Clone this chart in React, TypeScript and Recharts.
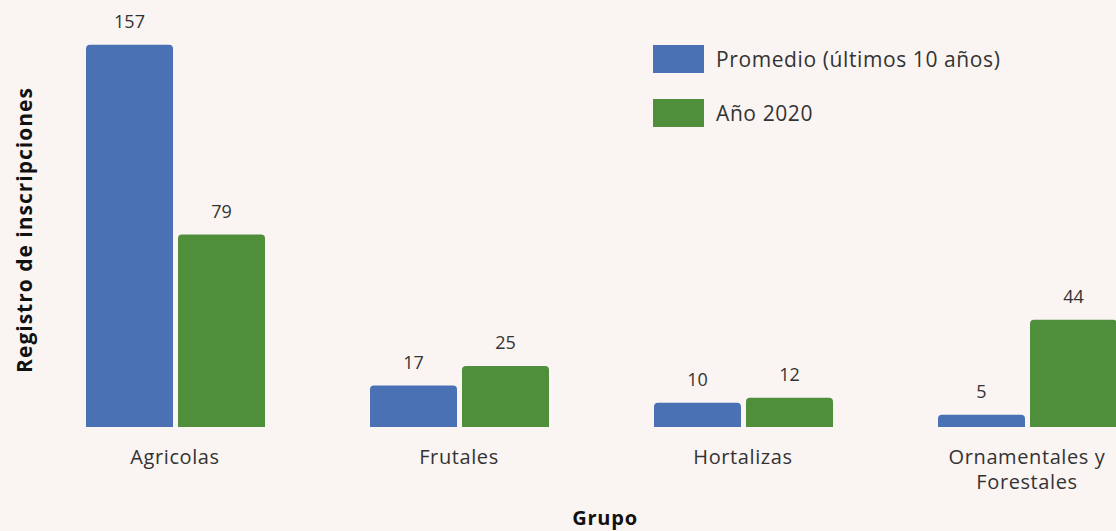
import React from "react";
import { BarChart, Bar, XAxis, YAxis, LabelList, Label } from "recharts";

const categories = ["Agricolas", "Frutales", "Hortalizas", "Ornamentales y\nForestales"];
const promedio = [157, 17, 10, 5];
const anio2020 = [79, 25, 12, 44];
const seriesNames = ["Promedio (últimos 10 años)", "Año 2020"];
const colors = ["#4a71b3", "#4f8f3b"];

const data = categories.map((c, i) => ({ name: c, promedio: promedio[i], anio: anio2020[i] }));

const FONT = "'Open Sans', sans-serif";

const Tick = (props: any) => {
  const { x, y, payload } = props;
  const lines = String(payload.value).split("\n");
  return (
    <g>
      {lines.map((l: string, i: number) => (
        <text key={i} x={x} y={y + 29 + i * 25} textAnchor="middle" fontFamily={FONT} fontSize={20} fill="#333" letterSpacing={0.6}>
          {l}
        </text>
      ))}
    </g>
  );
};

const LegendBox = () => (
  <div style={{ position: "absolute", left: 653, top: 45, fontFamily: FONT }}>
    {seriesNames.map((n, i) => (
      <div key={n} style={{ display: "flex", alignItems: "center", height: 28, marginBottom: 26 }}>
        <div style={{ width: 51, height: 28, background: colors[i] }} />
        <span style={{ marginLeft: 12, fontSize: 21, color: "#333", letterSpacing: 0.6 }}>{n}</span>
      </div>
    ))}
  </div>
);

export default function App() {
  return (
    <div style={{ position: "fixed", left: 0, top: 0, width: 1116, height: 531, overflow: "hidden", background: "#faf5f2" }}>
      <BarChart
        width={1180}
        height={531}
        data={data}
        margin={{ top: 13, right: 11, left: 0, bottom: 0 }}
        barSize={87}
        barGap={5}
      >
        <XAxis dataKey="name" axisLine={false} tickLine={false} height={104} tick={<Tick />} interval={0}>
          <Label
            content={() => (
              <text x={605} y={525} textAnchor="middle" fontFamily={FONT} fontSize={20} fontWeight={700} fill="#111" letterSpacing={0.8}>
                Grupo
              </text>
            )}
          />
        </XAxis>
        <YAxis width={33} domain={[0, 170]} axisLine={false} tickLine={false} tick={false}>
          <Label
            content={() => (
              <text x={32} y={230} transform="rotate(-90 32 230)" textAnchor="middle" fontFamily={FONT} fontSize={21} fontWeight={700} fill="#111" letterSpacing={1}>
                Registro de inscripciones
              </text>
            )}
          />
        </YAxis>
        <Bar dataKey="promedio" name={seriesNames[0]} fill={colors[0]} radius={[4, 4, 0, 0]} isAnimationActive={false}>
          <LabelList dataKey="promedio" position="top" offset={17} fontFamily={FONT} fontSize={18} fill="#333" />
        </Bar>
        <Bar dataKey="anio" name={seriesNames[1]} fill={colors[1]} radius={[4, 4, 0, 0]} isAnimationActive={false}>
          <LabelList dataKey="anio" position="top" offset={17} fontFamily={FONT} fontSize={18} fill="#333" />
        </Bar>
      </BarChart>
      <LegendBox />
    </div>
  );
}
